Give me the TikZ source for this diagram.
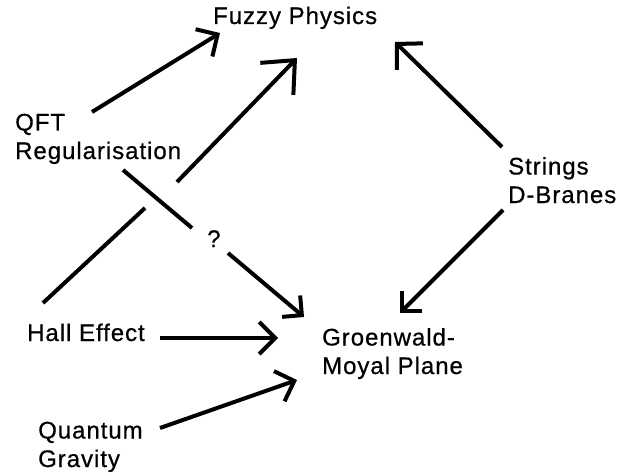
\documentclass[tikz,border=0pt]{standalone}
\usepackage{fontspec}
\setmainfont{Liberation Sans}[LetterSpace=4,FakeBold=0.6]
\usetikzlibrary{arrows.meta}
\begin{document}
\begin{tikzpicture}[x=1pt,y=-1pt,
  txt/.style={inner sep=0pt, anchor=base west, align=left, font=\fontsize{24}{28.5}\selectfont},
  line/.style={line width=4pt},
  tipS/.style={-{Straight Barb[length=14pt,width=28pt]}},
  tipM/.style={-{Straight Barb[length=16pt,width=32pt]}},
  tipL/.style={-{Straight Barb[length=18pt,width=37pt]}},
  tipXL/.style={-{Straight Barb[length=26pt,width=46pt]}}]
\useasboundingbox[fill=white] (0,0) rectangle (618,476);
% texts (multi-line nodes anchored at the baseline of their last line)
\node[txt] (fuzzy)   at (213,24)  {Fuzzy Physics};
\node[txt] (qft)     at (15,159)  {QFT\\Regularisation};
\node[txt] (hall)    at (27,341)  {Hall Effect};
\node[txt] (groen)   at (322,374) {Groenwald-\\Moyal Plane};
\node[txt] (quantum) at (38,467)  {Quantum\\Gravity};
\node[txt] (strings) at (508,203) {Strings\\D-Branes};
\node[txt] (q)       at (207,247) {?};
% gap points
\coordinate (gapA) at (145,208);
\coordinate (gapB) at (177,182);
\coordinate (qA) at (192,228);
\coordinate (qB) at (228,253);
% connectors
\draw[line,tipM]  ([shift={(77,-47)}]qft.base west) -- ([shift={(7,9)}]fuzzy.base west);
\draw[line,tipXL] ([shift={(16,-38)}]hall.base west) -- (gapA) (gapB) -- ([shift={(84,34)}]fuzzy.base west);
\draw[line,tipL]  ([shift={(-6,-56)}]strings.base west) -- ([shift={(182,18)}]fuzzy.base west);
\draw[line,tipS]  ([shift={(-5,7)}]strings.base west) -- ([shift={(78,-61)}]groen.base west);
\draw[line,tipS]  ([shift={(108,11)}]qft.base west) -- (qA) (qB) -- ([shift={(-18,-57)}]groen.base west);
\draw[line,tipM]  ([shift={(133,-3)}]hall.base west) -- ([shift={(-44,-36)}]groen.base west);
\draw[line,tipM]  ([shift={(122,-39)}]quantum.base west) -- ([shift={(-25,6)}]groen.base west);
\end{tikzpicture}
\end{document}
